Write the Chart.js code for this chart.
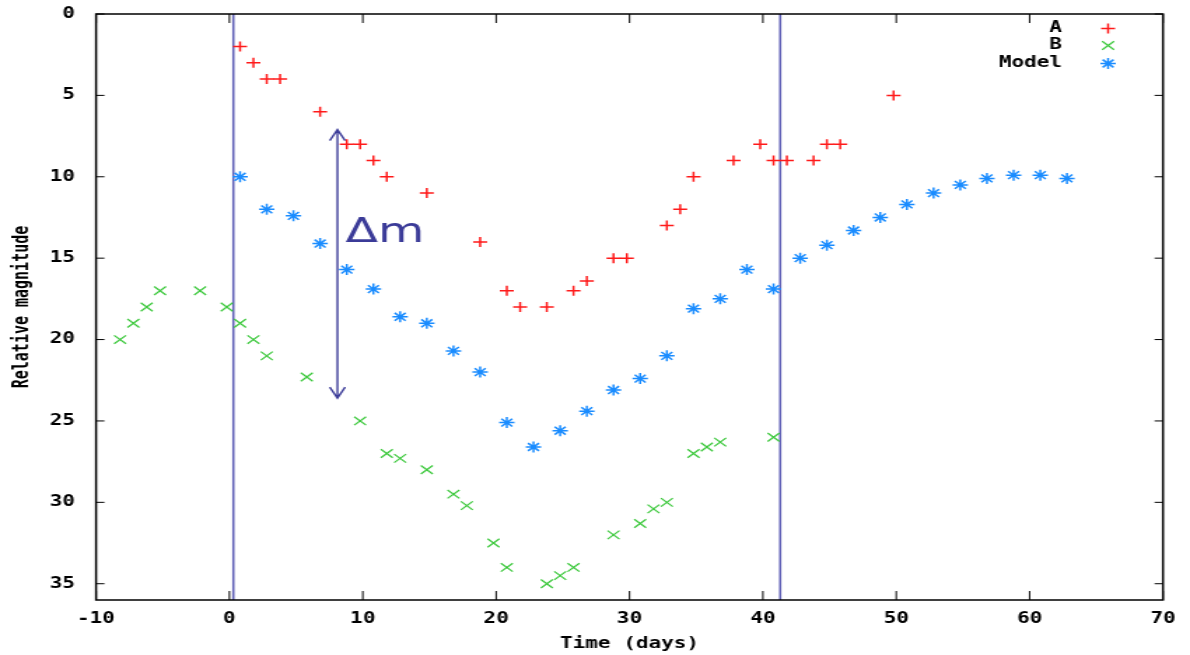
<!DOCTYPE html>
<html>
<head>
<meta charset="utf-8">
<script src="https://cdn.jsdelivr.net/npm/chart.js@4"></script>
<style>
	html, body { margin: 0; padding: 0; background: #fff; overflow: hidden; }
	/* the source picture is a gnuplot png stretched sideways, so the whole chart is too */
	#wrap { width: 850px; height: 655px; transform: scaleX(1.4); transform-origin: 0 0; }
</style>
</head>
<body>
<div id="wrap"><canvas id="lightcurve"></canvas></div>
<script>
// ---------------------------------------- Data ----------------------------------------

const aDays = [0.8, 1.8, 2.8, 3.8, 6.8, 8.8, 9.8, 10.8, 11.8, 14.8, 18.8, 20.8, 21.8, 23.8, 25.8, 26.8, 28.8, 29.8, 32.8, 33.8, 34.8, 37.8, 39.8, 40.8, 41.8, 43.8, 44.8, 45.8, 49.8];
const aMag = [2, 3, 4, 4, 6, 8, 8, 9, 10, 11, 14, 17, 18, 18, 17, 16.4, 15, 15, 13, 12, 10, 9, 8, 9, 9, 9, 8, 8, 5];

const bDays = [-8.2, -7.2, -6.2, -5.2, -2.2, -0.2, 0.8, 1.8, 2.8, 5.8, 9.8, 11.8, 12.8, 14.8, 16.8, 17.8, 19.8, 20.8, 23.8, 24.8, 25.8, 28.8, 30.8, 31.8, 32.8, 34.8, 35.8, 36.8, 40.8];
const bMag = [20, 19, 18, 17, 17, 18, 19, 20, 21, 22.3, 25, 27, 27.3, 28, 29.5, 30.2, 32.5, 34, 35, 34.5, 34, 32, 31.3, 30.4, 30, 27, 26.6, 26.3, 26];

const modelDays = [0.8, 2.8, 4.8, 6.8, 8.8, 10.8, 12.8, 14.8, 16.8, 18.8, 20.8, 22.8, 24.8, 26.8, 28.8, 30.8, 32.8, 34.8, 36.8, 38.8, 40.8, 42.8, 44.8, 46.8, 48.8, 50.8, 52.8, 54.8, 56.8, 58.8, 60.8, 62.8];
const modelMag = [10, 12, 12.4, 14.1, 15.7, 16.9, 18.6, 19, 20.7, 22, 25.1, 26.6, 25.6, 24.4, 23.1, 22.4, 21, 18.1, 17.5, 15.7, 16.9, 15, 14.2, 13.3, 12.5, 11.7, 11, 10.5, 10.1, 9.9, 9.9, 10.1];

const xTicks = [-10, 0, 10, 20, 30, 40, 50, 60, 70];
const yTicks = [0, 5, 10, 15, 20, 25, 30, 35];

// vertical markers and the magnitude-difference arrow, in data units
const markerDays = [0.3, 41.3];
const arrowDay = 8.1;
const arrowMag = [7.1, 23.6];
const deltaLabel = { day: 8.7, mag: 14, text: "Δm" };

function toPoints(xs, ys) {
	return xs.map((x, i) => ({ x: x, y: ys[i] }));
}

const monoFont = { family: '"DejaVu Sans Mono", monospace', size: 15, weight: "bold" };

// ---------------------------------------- Drawing helpers ----------------------------------------

function drawMarker(ctx, style, r, x, y) {
	ctx.beginPath();
	if (style === "cross" || style === "star") {
		ctx.moveTo(x - r, y);
		ctx.lineTo(x + r, y);
		ctx.moveTo(x, y - r);
		ctx.lineTo(x, y + r);
	}
	if (style === "crossRot" || style === "star") {
		const d = r * Math.SQRT1_2;
		ctx.moveTo(x - d, y - d);
		ctx.lineTo(x + d, y + d);
		ctx.moveTo(x - d, y + d);
		ctx.lineTo(x + d, y - d);
	}
	ctx.stroke();
}

const gnuplotFrame = {
	id: "gnuplotFrame",
	beforeDatasetsDraw(chart) {
		const { ctx, chartArea, scales } = chart;
		ctx.save();
		ctx.strokeStyle = "rgba(70, 70, 170, 0.85)";
		ctx.lineWidth = 1.6;
		markerDays.forEach((d) => {
			const px = scales.x.getPixelForValue(d);
			ctx.beginPath();
			ctx.moveTo(px, chartArea.top);
			ctx.lineTo(px, chartArea.bottom);
			ctx.stroke();
		});

		// double headed arrow
		const ax = scales.x.getPixelForValue(arrowDay);
		const y1 = scales.y.getPixelForValue(arrowMag[0]);
		const y2 = scales.y.getPixelForValue(arrowMag[1]);
		ctx.strokeStyle = "#3d3d99";
		ctx.lineWidth = 1.4;
		ctx.beginPath();
		ctx.moveTo(ax, y1);
		ctx.lineTo(ax, y2);
		ctx.moveTo(ax - 5.5, y1 + 11);
		ctx.lineTo(ax, y1);
		ctx.lineTo(ax + 5.5, y1 + 11);
		ctx.moveTo(ax - 5.5, y2 - 11);
		ctx.lineTo(ax, y2);
		ctx.lineTo(ax + 5.5, y2 - 11);
		ctx.stroke();

		ctx.fillStyle = "#3b3b98";
		ctx.font = '34px "DejaVu Sans", sans-serif';
		ctx.textAlign = "left";
		ctx.textBaseline = "alphabetic";
		ctx.fillText(deltaLabel.text, scales.x.getPixelForValue(deltaLabel.day), scales.y.getPixelForValue(deltaLabel.mag));
		ctx.restore();
	},
	afterDraw(chart) {
		const { ctx, chartArea, scales } = chart;
		const { left, right, top, bottom } = chartArea;
		ctx.save();
		ctx.strokeStyle = "#000";
		ctx.lineWidth = 1.5;
		ctx.strokeRect(left, top, right - left, bottom - top);

		// inward ticks, mirrored on the top and right
		ctx.lineWidth = 1;
		ctx.beginPath();
		xTicks.forEach((v) => {
			const px = scales.x.getPixelForValue(v);
			ctx.moveTo(px, bottom);
			ctx.lineTo(px, bottom - 9);
			ctx.moveTo(px, top);
			ctx.lineTo(px, top + 9);
		});
		yTicks.forEach((v) => {
			const py = scales.y.getPixelForValue(v);
			ctx.moveTo(left, py);
			ctx.lineTo(left + 6, py);
			ctx.moveTo(right, py);
			ctx.lineTo(right - 6, py);
		});
		ctx.stroke();

		// key in the top right corner
		const rowY = [28.5, 45.5, 63.5];
		ctx.font = 'bold 15px "DejaVu Sans Mono", monospace';
		ctx.textAlign = "right";
		ctx.textBaseline = "middle";
		chart.data.datasets.forEach((ds, i) => {
			ctx.fillStyle = "#000";
			ctx.fillText(ds.label, 758.6, rowY[i]);
			ctx.strokeStyle = ds.borderColor;
			ctx.lineWidth = ds.borderWidth;
			drawMarker(ctx, ds.pointStyle, ds.pointRadius, 791.5, rowY[i]);
		});
		ctx.restore();
	},
};

// ---------------------------------------- Light curve ----------------------------------------

const chartCanvas = document.getElementById("lightcurve");

const lightCurve = new Chart(chartCanvas, {
	type: "scatter",
	data: {
		datasets: [
			{
				label: "A",
				data: toPoints(aDays, aMag),
				pointStyle: "cross",
				pointRadius: 5,
				borderWidth: 1.5,
				borderColor: "#ff1a1a",
				backgroundColor: "#ff1a1a",
			},
			{
				label: "B",
				data: toPoints(bDays, bMag),
				pointStyle: "crossRot",
				pointRadius: 6,
				borderWidth: 1.2,
				borderColor: "#3cc83c",
				backgroundColor: "#3cc83c",
			},
			{
				label: "Model",
				data: toPoints(modelDays, modelMag),
				pointStyle: "star",
				pointRadius: 5.5,
				borderWidth: 1.5,
				borderColor: "#1a8cff",
				backgroundColor: "#1a8cff",
			},
		],
	},
	options: {
		responsive: true,
		maintainAspectRatio: false,
		animation: false,
		layout: {
			padding: { top: 14, right: 19.3, left: 0, bottom: 0 },
		},
		plugins: {
			legend: { display: false },
			tooltip: { enabled: false },
		},
		scales: {
			x: {
				type: "linear",
				min: -10,
				max: 70,
				afterBuildTicks: (scale) => {
					scale.ticks = xTicks.map((v) => ({ value: v }));
				},
				afterFit: (scale) => {
					scale.height = 55;
					scale.paddingLeft = 0;
					scale.paddingRight = 0;
				},
				ticks: { padding: 10, color: "#000", font: monoFont },
				grid: { display: false, drawTicks: false },
				border: { display: false },
				title: {
					display: true,
					text: "Time (days)",
					color: "#000",
					font: monoFont,
					padding: { top: 0, bottom: 2 },
				},
			},
			y: {
				type: "linear",
				min: 0,
				max: 36,
				reverse: true,
				afterBuildTicks: (scale) => {
					scale.ticks = yTicks.map((v) => ({ value: v }));
				},
				afterFit: (scale) => {
					scale.width = 68.6;
					scale.paddingTop = 0;
					scale.paddingBottom = 0;
				},
				ticks: { padding: 15, color: "#000", font: monoFont },
				grid: { display: false, drawTicks: false },
				border: { display: false },
				title: {
					display: true,
					text: "Relative magnitude",
					color: "#000",
					font: monoFont,
					padding: { top: 7.5, bottom: 0 },
				},
			},
		},
	},
	plugins: [gnuplotFrame],
});
</script>
</body>
</html>
